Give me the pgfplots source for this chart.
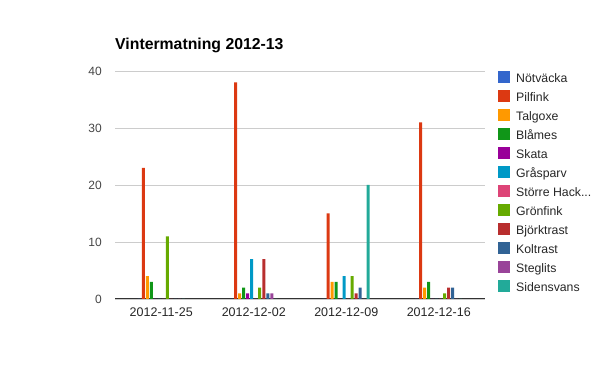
\documentclass[border=0pt]{standalone}
\usepackage{pgfplots}
\usepackage{pgfplotstable}
\pgfplotsset{compat=1.18}
\usepackage{fontspec}
\setmainfont{Liberation Sans}
\definecolor{s1}{HTML}{3366CC}
\definecolor{s2}{HTML}{DC3912}
\definecolor{s3}{HTML}{FF9900}
\definecolor{s4}{HTML}{109618}
\definecolor{s5}{HTML}{990099}
\definecolor{s6}{HTML}{0099C6}
\definecolor{s7}{HTML}{DD4477}
\definecolor{s8}{HTML}{66AA00}
\definecolor{s9}{HTML}{B82E2E}
\definecolor{s10}{HTML}{316395}
\definecolor{s11}{HTML}{994499}
\definecolor{s12}{HTML}{22AA99}
\pgfplotstableread{
x c1 c2 c3 c4 c5 c6 c7 c8 c9 c10 c11 c12
0 0 23 4 3 0 0 0 11 0 0 0 0
1 0 38 1 2 1 7 0 2 7 1 1 0
2 0 15 3 3 0 4 0 4 1 2 0 20
3 0 31 2 3 0 0 0 1 2 2 0 0
}\data
\begin{document}
\begin{tikzpicture}
\useasboundingbox (0,0) rectangle (600pt,371pt);
\begin{axis}[
  at={(115pt,72pt)}, anchor=south west,
  scale only axis, width=370pt, height=228pt,
  xmin=-0.5, xmax=3.5, ymin=0, ymax=40,
  ybar=1pt, bar width=3pt,
  xtick={0,1,2,3},
  xticklabels={2012-11-25,2012-12-02,2012-12-09,2012-12-16},
  ytick={0,10,20,30,40},
  /pgf/number format/assume math mode=true,
  ymajorgrids, grid style={color=black!20, line width=0.8pt},
  major tick length=0pt,
  axis lines*=left,
  y axis line style={draw=none},
  x axis line style={color=black!80, line width=1pt},
  xticklabel style={font=\fontsize{12.5}{12}\selectfont, text=black!85, anchor=base, inner sep=0pt, yshift=-18pt},
  yticklabel style={font=\fontsize{12}{12}\selectfont, text=black!73, anchor=east, inner sep=0pt, xshift=-13pt},
  title={\textbf{Vintermatning 2012-13}},
  title style={at={(axis description cs:0,1)}, anchor=base west, inner sep=0pt, yshift=15pt, font=\fontsize{15.8}{16}\selectfont},
  legend cell align=left,
  legend image code/.code={\fill[#1] (0pt,-3.5pt) rectangle (11.5pt,8pt);},
  legend style={at={(axis description cs:1.035,1.0)}, anchor=north west, draw=none, fill=none, inner sep=0pt,
     font=\fontsize{12.3}{12}\selectfont, text=black!85,
     nodes={inner sep=0pt, text height=9.5pt, text depth=2.5pt},
     row sep=5pt, column sep=0pt,
     /tikz/every odd column/.append style={column sep=6.5pt}},
]
\addplot[fill=s1, draw=none] table[x=x,y=c1] {\data};
\addplot[fill=s2, draw=none] table[x=x,y=c2] {\data};
\addplot[fill=s3, draw=none] table[x=x,y=c3] {\data};
\addplot[fill=s4, draw=none] table[x=x,y=c4] {\data};
\addplot[fill=s5, draw=none] table[x=x,y=c5] {\data};
\addplot[fill=s6, draw=none] table[x=x,y=c6] {\data};
\addplot[fill=s7, draw=none] table[x=x,y=c7] {\data};
\addplot[fill=s8, draw=none] table[x=x,y=c8] {\data};
\addplot[fill=s9, draw=none] table[x=x,y=c9] {\data};
\addplot[fill=s10, draw=none] table[x=x,y=c10] {\data};
\addplot[fill=s11, draw=none] table[x=x,y=c11] {\data};
\addplot[fill=s12, draw=none] table[x=x,y=c12] {\data};
\legend{Nötväcka,Pilfink,Talgoxe,Blåmes,Skata,Gråsparv,{Större Hack{.}{.}{.}},Grönfink,Björktrast,Koltrast,Steglits,Sidensvans}
\end{axis}
\end{tikzpicture}
\end{document}
